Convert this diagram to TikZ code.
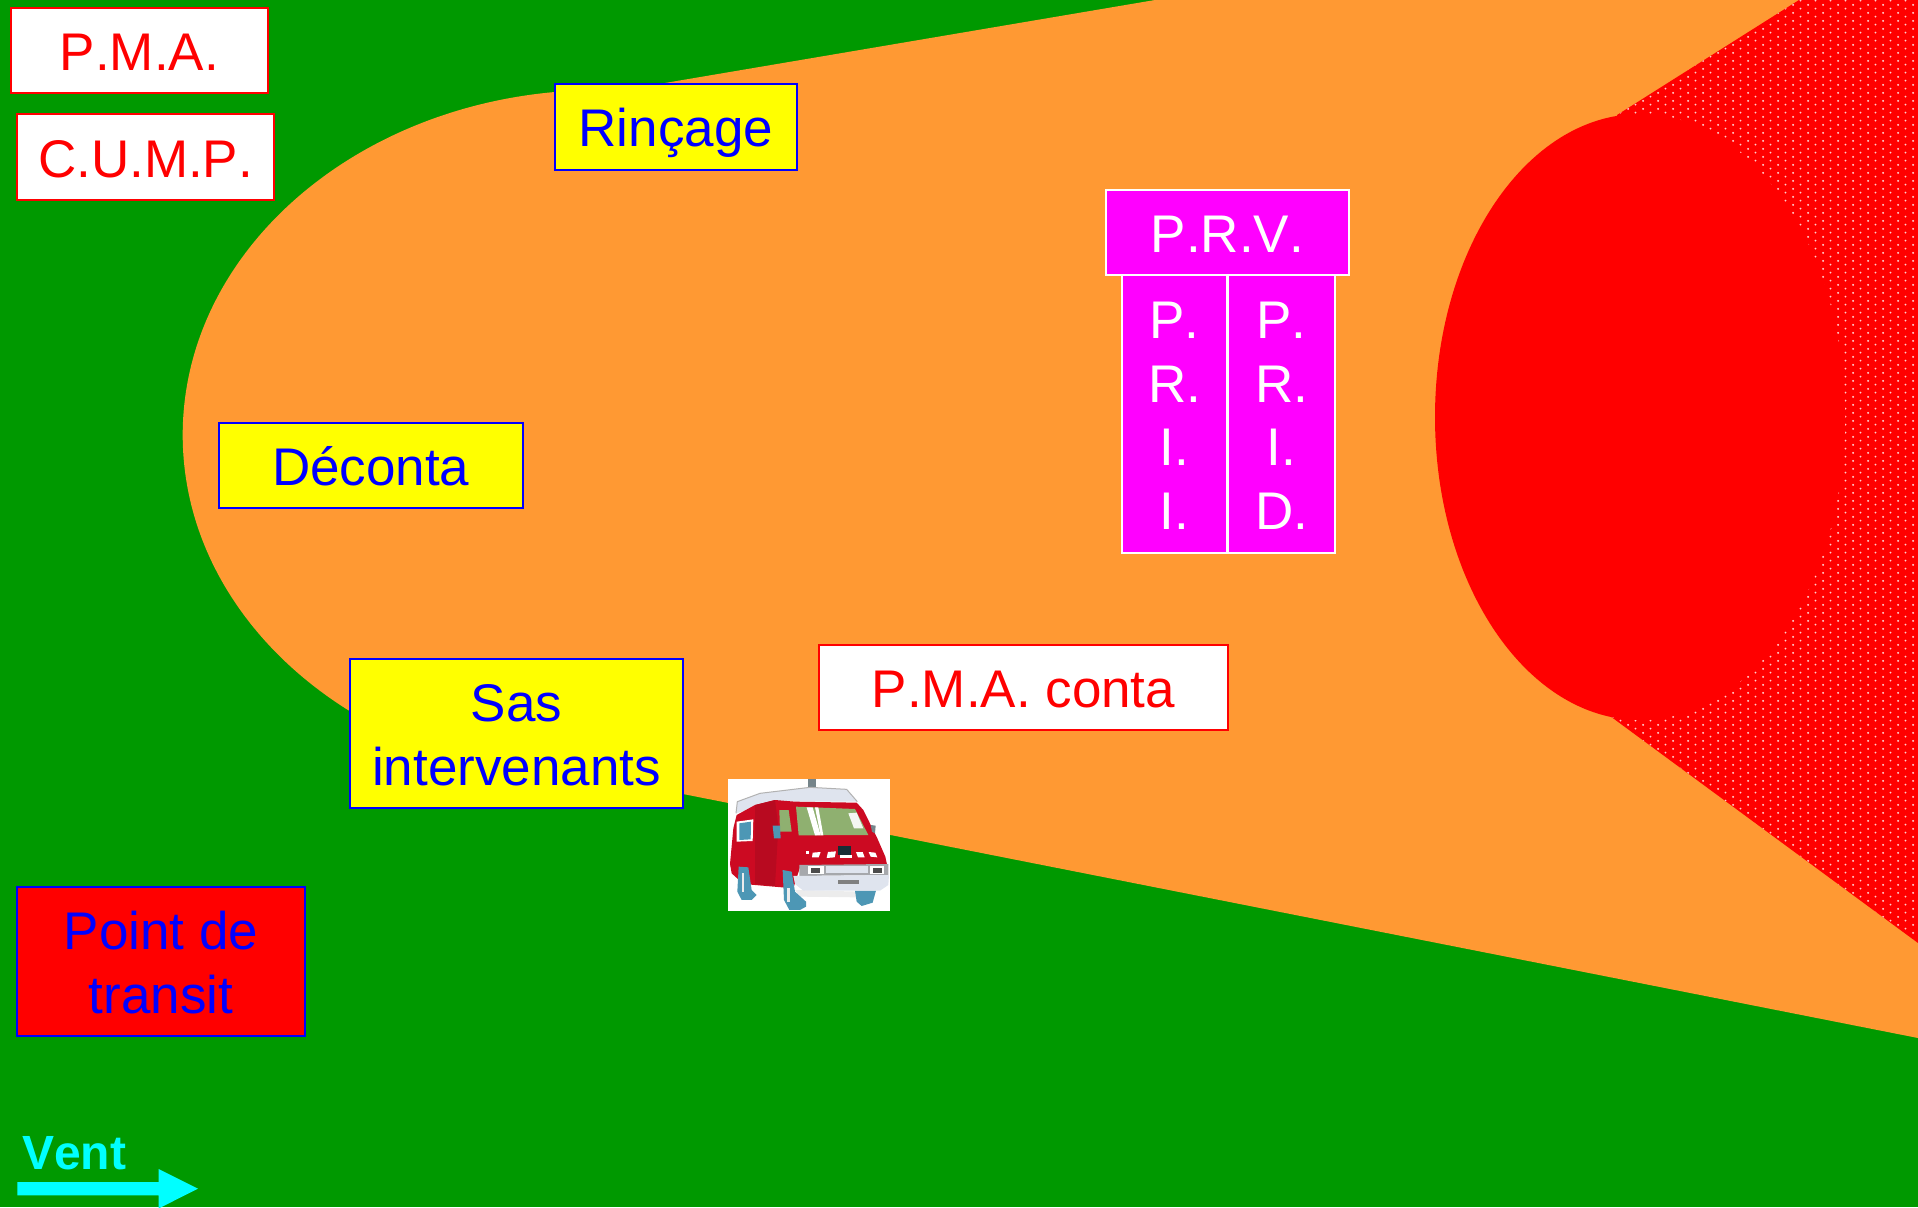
\documentclass[tikz,border=0pt]{standalone}
\usepackage{fontspec}
\setmainfont[Kerning=Off]{Liberation Sans}
\usetikzlibrary{patterns}
\definecolor{gr}{HTML}{009900}
\definecolor{org}{HTML}{FF9933}
\definecolor{rd}{HTML}{FF0000}
\definecolor{mg}{HTML}{FF00FF}
\definecolor{yl}{HTML}{FFFF00}
\definecolor{bl}{HTML}{0000FF}
\definecolor{cy}{HTML}{00FFFF}
\definecolor{vred}{HTML}{CC0A22}
\definecolor{vdark}{HTML}{B80A20}
\definecolor{vglass}{HTML}{8FB070}
\definecolor{vblue}{HTML}{4D97B5}
\definecolor{vpale}{HTML}{DFE4EE}
\pgfdeclarepatternformonly{ventdots}{\pgfqpoint{0pt}{0pt}}{\pgfqpoint{15.334pt}{7.667pt}}{\pgfqpoint{15.334pt}{7.667pt}}{%
  \pgfpathcircle{\pgfqpoint{4.3pt}{6.3pt}}{1.15pt}%
  \pgfpathcircle{\pgfqpoint{11.97pt}{2.47pt}}{1.15pt}%
  \pgfusepath{fill}}
\tikzset{
  boxbase/.style={rectangle,inner sep=0pt,outer sep=0pt,line width=2pt,align=center,
     font=\fontsize{53}{63.6}\selectfont,text height=40pt,text depth=0pt},
  twolines/.style={text height=103.6pt},
  fourlines/.style={text height=230.8pt},
  redbox/.style={boxbase,draw=rd,fill=white,text=rd},
  bluebox/.style={boxbase,draw=bl,fill=yl,text=bl},
  transitbox/.style={boxbase,draw=bl,fill=rd,text=bl},
  pinkbox/.style={boxbase,draw=white,fill=mg,text=white},
}
\newcommand{\bx}[6]{%
  \node[#2,minimum width={(#5-#3)*1pt},minimum height={(#6-#4)*1pt}] (#1) at ({(#3+#5)/2},{(#4+#6)/2})}
\begin{document}
\begin{tikzpicture}[x=1pt,y=-1pt]
\useasboundingbox (0,0) rectangle (1918,1207);
\fill[gr] (0,0) rectangle (1918,1207);
% orange zone
\fill[org] (600,435) ellipse [x radius=417.3,y radius=345];
\fill[org] (600,94) -- (1155,0) -- (1918,0) -- (1918,1038) -- (683,794) -- (600,777.6) -- cycle;
% dotted red zone
\fill[rd] (1799,0) -- (1918,0) -- (1918,943) -- (1610,716) -- (1617,115) -- cycle;
\fill[pattern=ventdots,pattern color=white!80!rd] (1799,0) -- (1918,0) -- (1918,943) -- (1610,716) -- (1617,115) -- cycle;
\fill[rd] (1640,417) ellipse [x radius=205,y radius=303];
% boxes
\bx{pma}{redbox}{10.7}{7.7}{268}{92.7} {P.M.A.};
\bx{cump}{redbox}{16.7}{114.3}{274.3}{199.7} {C.U.M.P.};
\bx{rincage}{bluebox}{554.5}{84}{797}{169.5} {Rinçage};
\bx{deconta}{bluebox}{218.5}{423}{523}{508} {Déconta};
\bx{sas}{bluebox,twolines}{350}{659}{683}{808} {Sas\\intervenants};
\bx{pmaconta}{redbox}{819}{645}{1228}{730} {P.M.A. conta};
\bx{transit}{transitbox,twolines}{17}{887}{305}{1036} {Point de\\transit};
\bx{prv}{pinkbox}{1106}{190}{1348.7}{275.3} {P.R.V.};
\bx{prii}{pinkbox,fourlines}{1121.7}{275.3}{1227.3}{552.7} {P.\\R.\\I.\\I.};
\bx{prid}{pinkbox,fourlines}{1228.3}{275.3}{1335}{552.7} {P.\\R.\\I.\\D.};
% wind
\node[anchor=base west,inner sep=0pt,text=cy,font=\fontsize{48}{56}\selectfont\bfseries] (vent) at (22,1169) {Vent};
\fill[cy] (17.3,1182) -- (158.7,1182) -- (158.7,1169) -- (198,1188.7) -- (158.7,1208.4) -- (158.7,1195.3) -- (17.3,1195.3) -- cycle;
% fire engine
\begin{scope}[shift={(700,760)},x=0.3333pt,y=-0.3333pt]
\clip (84,57) rectangle (570,453);
\fill[white] (84,57) rectangle (570,453);
\fill[gray!80!vblue] (325,57) rectangle (347,84);
\fill[vpale] (108,160) -- (112,125) -- (180,100) -- (330,82) -- (440,88) -- (472,125) -- (225,125) -- cycle;
\draw[gray!60,line width=1pt] (108,160) -- (112,125) -- (180,100) -- (330,82) -- (440,88) -- (472,125);
% body
\fill[vred] (90,312) -- (100,205) -- (110,165) -- (165,135) -- (225,120) -- (285,125) -- (470,128) -- (490,150) -- (532,235) -- (556,290) -- (562,318) -- (300,322) -- (280,385) -- (130,372) -- (95,340) -- cycle;
\fill[vdark] (165,135) -- (225,120) -- (235,200) -- (225,378) -- (165,372) -- cycle;
% lower body between wheels and sill
\fill[white!85!gray] (285,390) -- (480,395) -- (470,412) -- (300,410) -- cycle;
% wheels
\fill[vblue] (116,320) -- (145,322) -- (155,390) -- (170,405) -- (155,420) -- (125,420) -- (112,395) -- cycle;
\fill[vblue] (248,330) -- (275,335) -- (285,395) -- (318,425) -- (318,440) -- (300,450) -- (268,450) -- (252,420) -- cycle;
\fill[vblue] (465,392) -- (528,392) -- (518,428) -- (485,438) -- (470,425) -- cycle;
\fill[white!85!gray] (126,340) rectangle (132,395);
\fill[white!85!gray] (262,385) rectangle (270,425);
% windows
\fill[vglass] (288,140) -- (465,147) -- (505,225) -- (296,226) -- cycle;
\fill[white] (320,142) -- (338,142) -- (362,226) -- (345,226) -- cycle;
\fill[white] (345,142) -- (355,142) -- (370,226) -- (362,226) -- cycle;
\fill[white!90!vglass] (445,160) -- (470,158) -- (490,205) -- (462,205) -- cycle;
\fill[vglass] (238,150) -- (266,150) -- (275,215) -- (240,215) -- cycle;
\fill[white] (110,185) -- (160,178) -- (158,243) -- (110,245) -- cycle;
\fill[vblue] (118,190) -- (153,185) -- (152,238) -- (118,240) -- cycle;
\fill[vblue] (218,197) -- (240,197) -- (242,235) -- (222,235) -- cycle;
\fill[gray!80!vblue] (512,195) -- (527,197) -- (525,220) -- (516,215) -- cycle;
% front details
\fill[white] (338,278) -- (362,276) -- (356,292) -- (336,292) -- cycle;
\fill[white] (384,276) -- (408,274) -- (404,292) -- (380,294) -- cycle;
\fill[white] (468,276) -- (488,276) -- (494,292) -- (474,292) -- cycle;
\fill[white] (506,276) -- (526,278) -- (532,292) -- (512,290) -- cycle;
\fill[white] (318,274) rectangle (328,282);
\fill[black!70!vblue] (415,258) -- (452,258) -- (452,284) -- (415,284) -- cycle;
\fill[white] (420,285) rectangle (455,293);
\fill[gray!60!vpale] (298,315) -- (565,312) -- (565,345) -- (298,348) -- cycle;
\fill[vpale] (378,318) rectangle (505,340);
\fill[white] (325,318) rectangle (372,342);
\fill[white] (510,318) rectangle (552,342);
\fill[black!70] (332,324) rectangle (360,340);
\fill[black!70] (518,324) rectangle (545,340);
% bumper
\fill[vpale] (280,348) -- (567,345) -- (565,375) -- (540,392) -- (310,392) -- (285,372) -- cycle;
\fill[gray] (415,360) rectangle (478,373);
\end{scope}
\end{tikzpicture}
\end{document}
